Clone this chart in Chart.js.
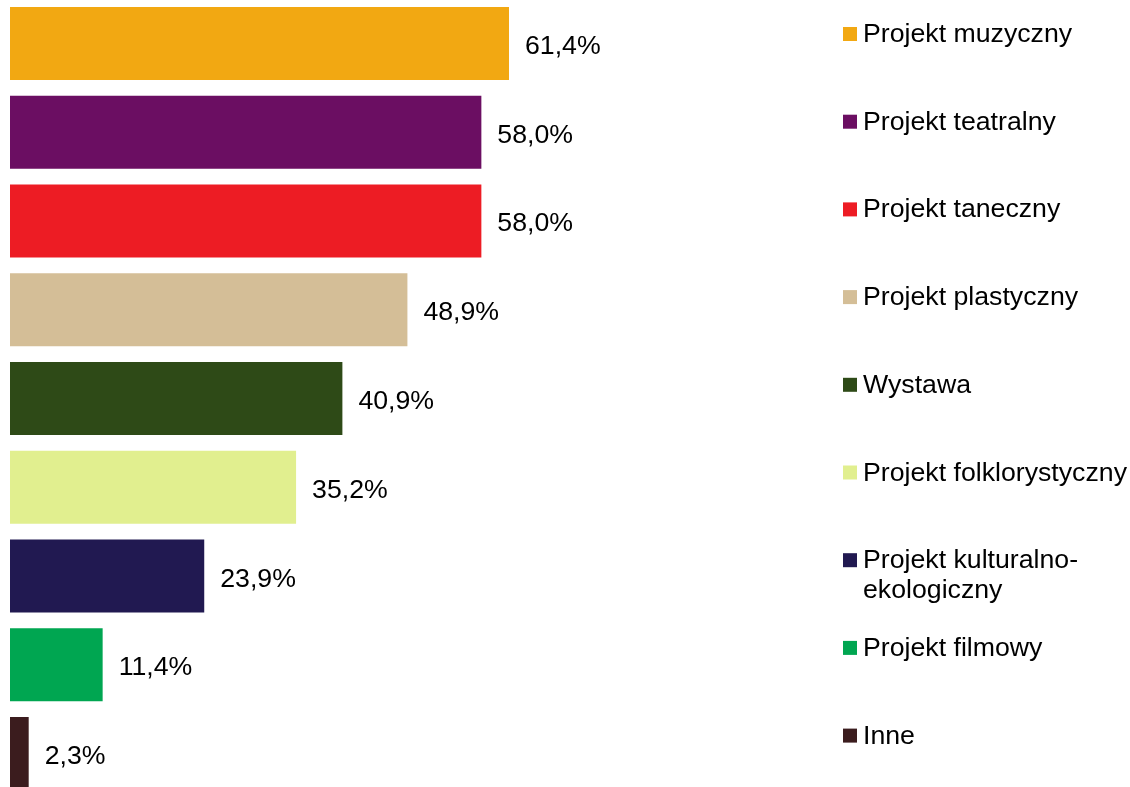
<!DOCTYPE html>
<html>
<head>
<meta charset="utf-8">
<script src="https://cdn.jsdelivr.net/npm/chart.js@4.4.0/dist/chart.umd.min.js"></script>
<style>
    html, body { margin: 0; padding: 0; background: #fff; overflow: hidden; }
    #wrap { position: absolute; left: 0; top: -1px; width: 1130px; height: 799px; }
</style>
</head>
<body>
<div id="wrap"><canvas id="myChart"></canvas></div>
<script>
// chart data
const categories = ['Projekt muzyczny', 'Projekt teatralny', 'Projekt taneczny', 'Projekt plastyczny',
    'Wystawa', 'Projekt folklorystyczny', 'Projekt kulturalno-ekologiczny', 'Projekt filmowy', 'Inne'];
const values = [61.4, 58.0, 58.0, 48.9, 40.9, 35.2, 23.9, 11.4, 2.3];
const barColors = ['#F2A812', '#6B0E62', '#ED1C24', '#D4BE97', '#2E4A17',
    '#E1EF8F', '#211951', '#00A651', '#3B1C1E'];

const FONT = '26.7px "Liberation Sans", Arial, sans-serif';

// value labels at the end of each bar
const valueLabels = {
    id: 'valueLabels',
    afterDatasetsDraw(chart) {
        const ctx = chart.ctx;
        const meta = chart.getDatasetMeta(0);
        ctx.save();
        ctx.font = FONT;
        ctx.fillStyle = '#000';
        ctx.textBaseline = 'alphabetic';
        meta.data.forEach((bar, i) => {
            const txt = values[i].toFixed(1).replace('.', ',') + '%';
            ctx.fillText(txt, bar.x + 16, bar.y + 10.5);
        });
        ctx.restore();
    }
};

// legend on the right side
const sideLegend = {
    id: 'sideLegend',
    afterDraw(chart) {
        const ctx = chart.ctx;
        ctx.save();
        ctx.font = FONT;
        ctx.textBaseline = 'alphabetic';
        const x0 = 843, tx = 863, maxW = chart.width - tx - 2;
        categories.forEach((name, i) => {
            const cy = 35 + i * 87.7;
            ctx.fillStyle = barColors[i];
            ctx.fillRect(x0, cy - 7, 14, 14);
            ctx.fillStyle = '#000';
            let lines = [name];
            if (ctx.measureText(name).width > maxW && name.indexOf('-') > 0) {
                const k = name.indexOf('-') + 1;
                lines = [name.slice(0, k), name.slice(k)];
            }
            lines.forEach((ln, j) => ctx.fillText(ln, tx, cy + 8 + j * 30));
        });
        ctx.restore();
    }
};

const ctx = document.getElementById('myChart').getContext('2d');
const myChart = new Chart(ctx, {
    type: 'bar',
    data: {
        labels: categories,
        datasets: [{
            data: values,
            backgroundColor: barColors,
            borderWidth: 0,
            barPercentage: 0.822,
            categoryPercentage: 1.0
        }]
    },
    options: {
        indexAxis: 'y',
        responsive: true,
        maintainAspectRatio: false,
        animation: false,
        layout: { padding: { left: 10, right: 307.3, top: 0, bottom: 0 } },
        plugins: {
            legend: { display: false },
            tooltip: { enabled: false }
        },
        scales: {
            x: { display: false, min: 0, max: 100 },
            y: { display: false }
        }
    },
    plugins: [valueLabels, sideLegend]
});
</script>
</body>
</html>
